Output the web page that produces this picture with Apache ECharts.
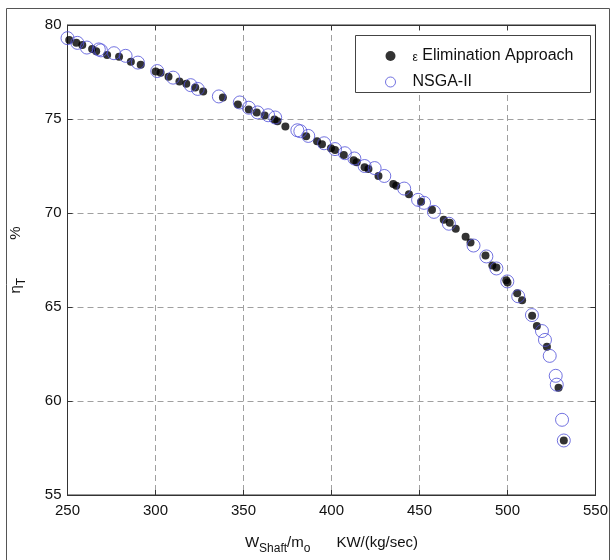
<!DOCTYPE html>
<html>
<head>
<meta charset="utf-8">
<script src="https://cdn.jsdelivr.net/npm/echarts@6/dist/echarts.min.js"></script>
<style>
  html, body { margin: 0; padding: 0; background: #fff; }
  #chart { width: 611px; height: 560px; }
</style>
</head>
<body>
<div id="chart"></div>
<script>
// Shaft work per unit mass flow vs. turbine efficiency: two Pareto fronts
var epsilonName = 'ε Elimination Approach';
var nsgaName = 'NSGA-II';

var xTicks = [250, 300, 350, 400, 450, 500, 550];
var yTicks = [55, 60, 65, 70, 75, 80];

// [W_shaft/m_o (kW/(kg/s)), eta_T (%)]
var epsilonPoints = [
  [251, 79.2], [255, 79.05], [258.4, 78.94], [264, 78.73], [266.3, 78.6],
  [272.5, 78.41], [279.3, 78.31], [286, 78.04], [291.6, 77.89], [300.1, 77.52],
  [302.9, 77.46], [307.4, 77.25], [313.6, 76.99], [317.5, 76.88], [322.6, 76.67],
  [327.1, 76.46], [338.3, 76.14], [346.8, 75.77], [353, 75.51], [357.5, 75.35],
  [362, 75.19], [367.6, 74.98], [369.3, 74.88], [373.8, 74.6], [385.6, 74.08],
  [391.8, 73.82], [394.6, 73.66], [399.7, 73.45], [402, 73.35], [407, 73.08],
  [412.6, 72.81], [414.3, 72.7], [418.8, 72.44], [421, 72.34], [426.7, 71.97],
  [435.1, 71.54], [436.8, 71.45], [444, 71.0], [450.9, 70.6], [457.1, 70.17],
  [463.8, 69.64], [467.2, 69.48], [470.6, 69.16], [476.2, 68.74], [479, 68.43],
  [487.5, 67.74], [491.4, 67.21], [493.7, 67.1], [499.3, 66.42], [500, 66.3],
  [505.5, 65.73], [508.3, 65.36], [514, 64.54], [516.7, 63.99], [522.4, 62.88],
  [529, 60.71], [532, 57.9]
];

var nsgaPoints = [
  [250, 79.3], [255.6, 79.05], [261, 78.8], [267.8, 78.7], [269, 78.65],
  [276.4, 78.5], [283, 78.36], [290, 78.0], [301, 77.55], [310, 77.2],
  [320, 76.8], [324, 76.6], [336, 76.2], [347.9, 75.88], [353, 75.6],
  [358, 75.35], [364, 75.2], [368, 75.08], [380.6, 74.4], [382.3, 74.35],
  [386.8, 74.1], [395.8, 73.71], [402, 73.4], [407.6, 73.18], [413, 72.9],
  [418.8, 72.5], [424.5, 72.39], [430, 71.97], [441.3, 71.3], [449.2, 70.7],
  [452.6, 70.54], [458.2, 70.06], [466.7, 69.43], [480.7, 68.27], [488, 67.69],
  [493.7, 67.05], [499.9, 66.36], [506.1, 65.57], [513.9, 64.57], [519.6, 63.72],
  [521.3, 63.25], [524, 62.4], [527.4, 61.34], [528, 60.87], [531, 59.0],
  [532, 57.9]
];

var FONT = '"Liberation Sans", Arial, sans-serif';
var INK = '#111';
var GRID_LINE = { show: true, lineStyle: { color: '#a0a0a0', type: [6, 4], width: 1 } };

var chart = echarts.init(document.getElementById('chart'), null, { renderer: 'canvas' });

chart.setOption({
  animation: false,
  backgroundColor: '#fff',
  textStyle: { fontFamily: FONT },
  grid: {
    left: 63, top: 25, right: 15, bottom: 62,
    show: true, borderColor: '#333', borderWidth: 1, backgroundColor: '#fff'
  },
  graphic: [
    {
      type: 'rect', silent: true, z: -1,
      shape: { x: 6.5, y: 8.5, width: 603, height: 570 },
      style: { fill: 'none', stroke: '#555', lineWidth: 1 }
    },
    {
      type: 'rect', silent: true, z: 10,
      shape: { x: 355.5, y: 35.5, width: 235, height: 57 },
      style: { fill: '#fff', stroke: '#444', lineWidth: 1 }
    }
  ],
  legend: {
    left: 380, top: 43, orient: 'vertical', itemGap: 10,
    itemWidth: 10, itemHeight: 10, z: 11,
    data: [
      { name: epsilonName, icon: 'circle', itemStyle: { color: '#000', borderWidth: 0 } },
      { name: nsgaName, icon: 'circle', itemStyle: { color: 'rgba(0,0,0,0)', borderColor: '#5050d8', borderWidth: 1 } }
    ],
    formatter: function (name) {
      if (name === epsilonName) return '{eps|ε} Elimination Approach';
      return name;
    },
    textStyle: {
      fontFamily: FONT, fontSize: 16, color: INK, padding: [0, 0, 0, 12],
      rich: { eps: { fontFamily: FONT, fontSize: 12, color: INK, padding: [4, 0, 0, 0] } }
    }
  },
  xAxis: [
    {
      type: 'value', min: xTicks[0], max: xTicks[xTicks.length - 1], interval: 50,
      position: 'bottom',
      axisLine: { show: true, onZero: false, lineStyle: { color: '#333' } },
      axisTick: { show: true, inside: true, length: 5, lineStyle: { color: '#333' } },
      axisLabel: { color: INK, fontSize: 15, fontFamily: FONT, margin: 8 },
      splitLine: GRID_LINE,
      name: '{t|W}{s|Shaft}{t|/m}{s|o}{g|}{t|KW/(kg/sec)}',
      nameLocation: 'middle', nameGap: 36,
      nameTextStyle: {
        rich: {
          t: { fontFamily: FONT, fontSize: 15, color: INK },
          s: { fontFamily: FONT, fontSize: 12, color: INK, padding: [12, 0, 0, 0] },
          g: { width: 26 }
        }
      }
    },
    {
      type: 'value', min: xTicks[0], max: xTicks[xTicks.length - 1], interval: 50,
      position: 'top',
      axisLine: { show: true, onZero: false, lineStyle: { color: '#333' } },
      axisTick: { show: true, inside: true, length: 5, lineStyle: { color: '#333' } },
      axisLabel: { show: false }, splitLine: { show: false }
    }
  ],
  yAxis: [
    {
      type: 'value', min: yTicks[0], max: yTicks[yTicks.length - 1], interval: 5,
      position: 'left',
      axisLine: { show: true, onZero: false, lineStyle: { color: '#333' } },
      axisTick: { show: true, inside: true, length: 5, lineStyle: { color: '#333' } },
      axisLabel: { color: INK, fontSize: 15, fontFamily: FONT, margin: 6 },
      splitLine: GRID_LINE,
      name: '{t|η}{s|T}{g|}{t|%}',
      nameLocation: 'middle', nameRotate: 90, nameGap: 40,
      nameTextStyle: {
        rich: {
          t: { fontFamily: FONT, fontSize: 15, color: INK },
          s: { fontFamily: FONT, fontSize: 12, color: INK, padding: [12, 0, 0, 0] },
          g: { width: 38 }
        }
      }
    },
    {
      type: 'value', min: yTicks[0], max: yTicks[yTicks.length - 1], interval: 5,
      position: 'right',
      axisLine: { show: true, onZero: false, lineStyle: { color: '#333' } },
      axisTick: { show: true, inside: true, length: 5, lineStyle: { color: '#333' } },
      axisLabel: { show: false }, splitLine: { show: false }
    }
  ],
  series: [
    {
      name: epsilonName, type: 'scatter', xAxisIndex: 0, yAxisIndex: 0,
      data: epsilonPoints, symbol: 'circle', symbolSize: 8,
      itemStyle: { color: '#000', borderWidth: 0 }, z: 2
    },
    {
      name: nsgaName, type: 'scatter', xAxisIndex: 0, yAxisIndex: 0,
      data: nsgaPoints, symbol: 'circle', symbolSize: 13,
      itemStyle: { color: 'rgba(0,0,0,0)', borderColor: '#5050d8', borderWidth: 1 }, z: 3
    }
  ]
});
</script>
</body>
</html>
